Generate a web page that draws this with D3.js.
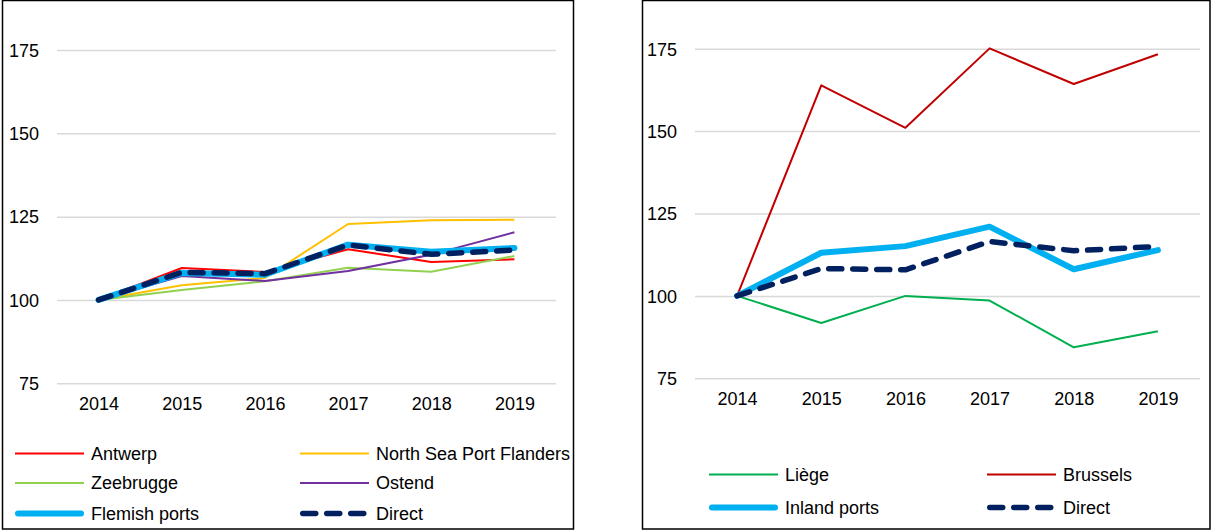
<!DOCTYPE html>
<html lang="en">
<head>
    <meta charset="UTF-8">
    <title>Port index</title>
    <style>
        body { margin: 0; background: #fff; }
        svg text { font-family: "Liberation Sans", Arial, sans-serif; font-size: 18px; fill: #000; }
    </style>
</head>
<body>
    <svg width="1212" height="530"></svg>
    <script src="https://d3js.org/d3.v7.min.js"></script>
    <script>

        const years = ["2014", "2015", "2016", "2017", "2018", "2019"];
        const yTicks = [75, 100, 125, 150, 175];

        // left panel
        const antwerp = [100, 109.6, 108.4, 115.2, 111.4, 112.2];
        const northSea = [100, 104.4, 106.6, 122.8, 123.9, 124.1];
        const zeebrugge = [100, 103.0, 105.6, 109.7, 108.5, 113.2];
        const ostend = [100, 107.2, 105.7, 108.7, 113.6, 120.3];
        const flemish = [100, 108.1, 107.6, 116.6, 114.5, 115.6];
        // right panel
        const liege = [100, 91.8, 100, 98.6, 84.4, 89.3];
        const brussels = [100, 163.9, 151.0, 175.1, 164.3, 173.3];
        const inland = [100, 113.1, 115.1, 121.0, 108.1, 113.9];
        // both panels
        const direct = [100, 108.3, 107.9, 116.5, 113.7, 115.0];

        const styles = {
            thin: { w: 2, dash: null, cap: "butt" },
            thick: { w: 6, dash: null, cap: "round" },
            dashed: { w: 5.5, dash: "13 11", cap: "round" }
        };

        const svg = d3.select("svg");

        function panel(cfg) {
            const g = svg.append("g");
            g.append("rect")
                .attr("x", cfg.box[0]).attr("y", cfg.box[1])
                .attr("width", cfg.box[2]).attr("height", cfg.box[3])
                .attr("fill", "none").attr("stroke", "#000").attr("stroke-width", 1.5);

            const x = d3.scalePoint().domain(years).range(cfg.xr).padding(0.5);
            const y = d3.scaleLinear().domain([75, 175]).range(cfg.yr);

            const ax = g.append("g").attr("transform", `translate(0,${cfg.yr[0]})`)
                .call(d3.axisBottom(x).tickSize(0).tickPadding(14));
            ax.select(".domain").remove();
            ax.selectAll("text").attr("font-size", null).attr("font-family", null);

            const ay = g.append("g").attr("transform", `translate(${cfg.xr[0]},0)`)
                .call(d3.axisLeft(y).tickValues(yTicks).tickSize(-(cfg.xr[1] - cfg.xr[0])).tickPadding(18));
            ay.select(".domain").remove();
            ay.selectAll("line").attr("stroke", "#d9d9d9").attr("stroke-width", 1.5);
            ay.selectAll("text").attr("font-size", null).attr("font-family", null).attr("dy", "0.35em");

            const line = d3.line().x((d, i) => x(years[i])).y(d => y(d));

            cfg.series.forEach(s => {
                const st = styles[s.type];
                g.append("path").datum(s.values)
                    .attr("d", line)
                    .attr("fill", "none")
                    .attr("stroke", s.color)
                    .attr("stroke-width", st.w)
                    .attr("stroke-linecap", st.cap)
                    .attr("stroke-linejoin", "round")
                    .attr("stroke-dasharray", st.dash);
            });

            cfg.series.forEach((s, i) => {
                const st = styles[s.type];
                const col = i % 2, row = Math.floor(i / 2);
                const lx = cfg.legX[col], ly = cfg.legY[row];
                const lw = cfg.legW;
                const inset = st.cap === "round" ? st.w / 2 : 0;
                g.append("line")
                    .attr("x1", lx + inset).attr("x2", lx + lw - inset)
                    .attr("y1", ly).attr("y2", ly)
                    .attr("stroke", s.color)
                    .attr("stroke-width", st.w)
                    .attr("stroke-linecap", st.cap)
                    .attr("stroke-dasharray", st.dash);
                g.append("text")
                    .attr("x", lx + lw + 7).attr("y", ly).attr("dy", "0.35em")
                    .text(s.name);
            });
        }

        panel({
            box: [2.5, 0.5, 571, 528.5],
            xr: [57, 556],
            yr: [383.3, 50],
            legX: [15, 300], legY: [453.5, 483, 513.5], legW: 69,
            series: [
                { name: "Antwerp", values: antwerp, color: "#ff0000", type: "thin" },
                { name: "North Sea Port Flanders", values: northSea, color: "#ffc000", type: "thin" },
                { name: "Zeebrugge", values: zeebrugge, color: "#92d050", type: "thin" },
                { name: "Ostend", values: ostend, color: "#7030a0", type: "thin" },
                { name: "Flemish ports", values: flemish, color: "#00b0f0", type: "thick" },
                { name: "Direct", values: direct, color: "#002060", type: "dashed" }
            ]
        });

        panel({
            box: [642.5, 0.5, 567.5, 528.5],
            xr: [695, 1200],
            yr: [378.3, 48.7],
            legX: [709, 987], legY: [474.5, 507.5], legW: 69,
            series: [
                { name: "Liège", values: liege, color: "#00b050", type: "thin" },
                { name: "Brussels", values: brussels, color: "#c00000", type: "thin" },
                { name: "Inland ports", values: inland, color: "#00b0f0", type: "thick" },
                { name: "Direct", values: direct, color: "#002060", type: "dashed" }
            ]
        });

    </script>
</body>
</html>
